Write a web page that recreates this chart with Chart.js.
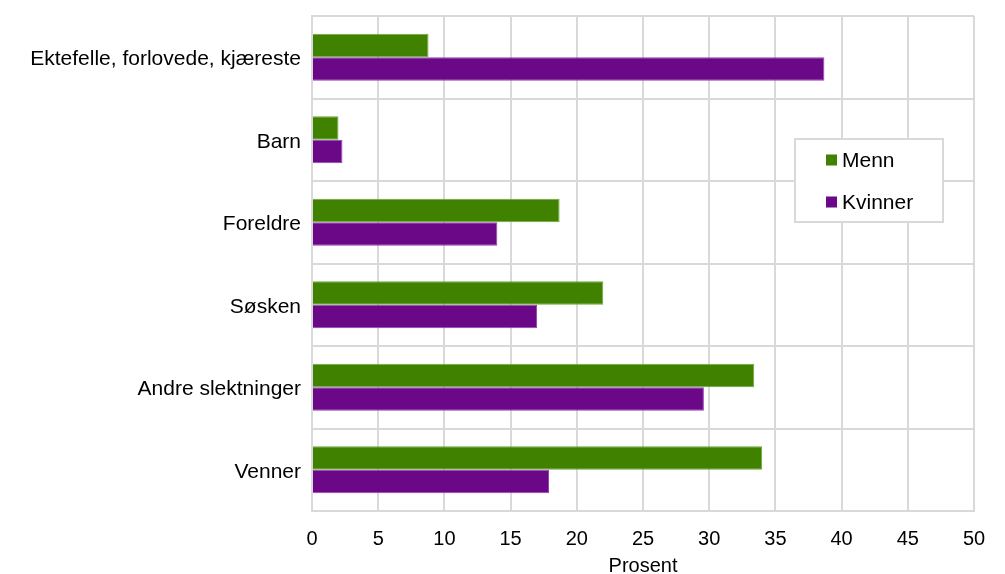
<!DOCTYPE html>
<html>
<head>
<meta charset="utf-8">
<script src="https://cdn.jsdelivr.net/npm/chart.js@4"></script>
<style>
html,body{margin:0;padding:0;background:#fff;}
#wrap{width:1005px;height:574px;}
</style>
</head>
<body>
<div id="wrap"><canvas id="c" width="1005" height="574"></canvas></div>
<script>
const categories = ["Ektefelle, forlovede, kjæreste", "Barn", "Foreldre", "Søsken", "Andre slektninger", "Venner"];
const menn = [8.8, 2.0, 18.7, 22.0, 33.4, 34.0];
const kvinner = [38.7, 2.3, 14.0, 17.0, 29.6, 17.9];
const seriesNames = ["Menn", "Kvinner"];
const xTicks = [0, 5, 10, 15, 20, 25, 30, 35, 40, 45, 50];
const axisTitle = "Prosent";

const GREEN = "#408200";
const PURPLE = "#6a0888";
const GRID = "#d9d9d9";
const FONT = "'Liberation Sans', Arial, sans-serif";

const legendBox = {
  id: "legendBox",
  afterDraw(chart) {
    const ctx = chart.ctx;
    ctx.save();
    const x = 795, y = 139, w = 148, h = 83;
    ctx.fillStyle = "#fff";
    ctx.fillRect(x, y, w, h);
    ctx.strokeStyle = GRID;
    ctx.lineWidth = 2;
    ctx.strokeRect(x, y, w, h);
    ctx.font = "21px " + FONT;
    ctx.textBaseline = "middle";
    ctx.textAlign = "left";
    chart.data.datasets.forEach((ds, i) => {
      const cy = 160 + i * 42;
      ctx.fillStyle = ds.backgroundColor;
      ctx.fillRect(826, cy - 5.5, 11, 11);
      ctx.fillStyle = "#000";
      ctx.fillText(ds.label, 842, cy + 1);
    });
    ctx.restore();
  }
};

new Chart(document.getElementById("c"), {
  type: "bar",
  data: {
    labels: categories,
    datasets: [
      { label: seriesNames[0], data: menn, backgroundColor: GREEN, borderColor: "#6aa83a", borderWidth: 1, borderSkipped: "start" },
      { label: seriesNames[1], data: kvinner, backgroundColor: PURPLE, borderColor: "#9440b0", borderWidth: 1, borderSkipped: "start" }
    ]
  },
  options: {
    indexAxis: "y",
    responsive: false,
    animation: false,
    devicePixelRatio: 1,
    layout: { padding: { left: 0, right: 31, top: 16, bottom: 0 } },
    datasets: { bar: { categoryPercentage: 0.567, barPercentage: 1.0 } },
    plugins: { legend: { display: false }, tooltip: { enabled: false } },
    scales: {
      x: {
        type: "linear",
        min: 0, max: 50,
        afterBuildTicks(scale) { scale.ticks = xTicks.map(v => ({ value: v })); },
        afterFit(scale) { scale.height = 63; scale.paddingLeft = 0; scale.paddingRight = 0; },
        grid: { color: GRID, lineWidth: 2, drawTicks: false },
        border: { display: true, color: GRID, width: 2 },
        ticks: { color: "#000", font: { family: FONT, size: 20 }, padding: 16, maxRotation: 0 },
        title: { display: true, text: axisTitle, color: "#000", font: { family: FONT, size: 20, lineHeight: 1 }, padding: { top: 0, bottom: -2 } }
      },
      y: {
        afterFit(scale) { scale.width = 312; scale.paddingTop = 0; scale.paddingBottom = 0; },
        grid: { color: GRID, lineWidth: 2, drawTicks: false, offset: true },
        border: { display: true, color: GRID, width: 2 },
        ticks: { color: "#000", font: { family: FONT, size: 21 }, padding: 11, labelOffset: 2 }
      }
    }
  },
  plugins: [legendBox]
});
</script>
</body>
</html>
